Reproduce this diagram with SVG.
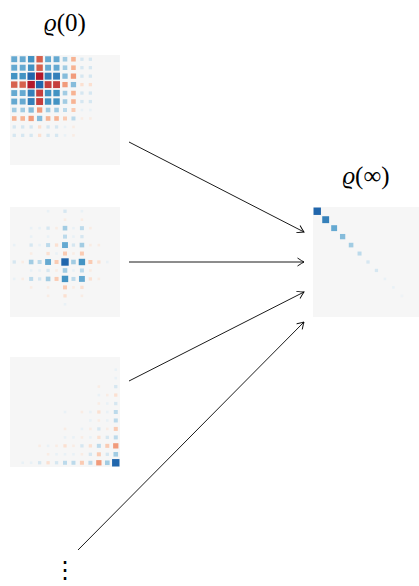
<svg xmlns="http://www.w3.org/2000/svg" width="419" height="586" viewBox="0 0 419 586">
  <style>
    .bg{fill:#f6f6f6}
    .lbl{font-family:"Liberation Serif","DejaVu Serif",serif;font-size:25px;fill:#000}
    .var{font-style:italic}
    .dots{font-family:"DejaVu Sans",sans-serif;font-size:24px;fill:#000}
    .arrow{fill:none;stroke:#000;stroke-width:0.9}
    .b0{fill:#e9f1f6}.b1{fill:#d6e7f1}.b2{fill:#bcdaeb}.b3{fill:#a2cce3}.b4{fill:#86bcdb}
    .b5{fill:#65a9d1}.b6{fill:#4393c3}.b7{fill:#3580ba}.b8{fill:#2166ac}
    .r0{fill:#f9ece4}.r1{fill:#fbe0d1}.r2{fill:#facbb3}.r3{fill:#f7b393}.r4{fill:#f19b7b}
    .r5{fill:#e27c62}.r6{fill:#d6604d}.r7{fill:#c53e3d}.r8{fill:#b2182b}
  </style>
  <defs>
    <!-- matrix-element squares in cell units (one cell = 1x1), centred in the cell -->
    <rect id="B0" class="b0" x="0.346" y="0.346" width="0.307" height="0.307"/>
    <rect id="B1" class="b1" x="0.305" y="0.305" width="0.39" height="0.39"/>
    <rect id="B2" class="b2" x="0.264" y="0.264" width="0.473" height="0.473"/>
    <rect id="B3" class="b3" x="0.228" y="0.228" width="0.544" height="0.544"/>
    <rect id="B4" class="b4" x="0.187" y="0.187" width="0.626" height="0.626"/>
    <rect id="B5" class="b5" x="0.151" y="0.151" width="0.697" height="0.697"/>
    <rect id="B6" class="b6" x="0.122" y="0.122" width="0.756" height="0.756"/>
    <rect id="B7" class="b7" x="0.092" y="0.092" width="0.815" height="0.815"/>
    <rect id="B8" class="b8" x="0.063" y="0.063" width="0.875" height="0.875"/>
    <rect id="R0" class="r0" x="0.346" y="0.346" width="0.307" height="0.307"/>
    <rect id="R1" class="r1" x="0.305" y="0.305" width="0.39" height="0.39"/>
    <rect id="R2" class="r2" x="0.264" y="0.264" width="0.473" height="0.473"/>
    <rect id="R3" class="r3" x="0.228" y="0.228" width="0.544" height="0.544"/>
    <rect id="R4" class="r4" x="0.187" y="0.187" width="0.626" height="0.626"/>
    <rect id="R5" class="r5" x="0.151" y="0.151" width="0.697" height="0.697"/>
    <rect id="R6" class="r6" x="0.122" y="0.122" width="0.756" height="0.756"/>
    <rect id="R7" class="r7" x="0.092" y="0.092" width="0.815" height="0.815"/>
    <rect id="R8" class="r8" x="0.063" y="0.063" width="0.875" height="0.875"/>
    <marker id="tip" viewBox="-8 -5 10 10" markerWidth="10" markerHeight="10" refX="0" refY="0" orient="auto" markerUnits="userSpaceOnUse">
      <path d="M-6.5,-4 Q-2,-1 0,0 Q-2,1 -6.5,4" fill="none" stroke="#000" stroke-width="0.9"/>
    </marker>
  </defs>

  <!-- labels -->
  <g id="label-rho0">
    <text class="lbl" x="65" y="31" text-anchor="middle"><tspan class="var">ϱ</tspan>(0)</text>
  </g>
  <g id="label-rhoinf">
    <text class="lbl" x="366" y="184" text-anchor="middle"><tspan class="var">ϱ</tspan>(∞)</text>
  </g>

  <!-- initial state: outer product of a real vector -->
  <g id="state-a" transform="translate(10,55) scale(8.4615)">
    <rect class="bg" x="0" y="0" width="13" height="13"/>
    <use href="#B5" x="0" y="0"/><use href="#B5" x="1" y="0"/><use href="#B6" x="2" y="0"/><use href="#R6" x="3" y="0"/><use href="#B5" x="4" y="0"/><use href="#B5" x="5" y="0"/><use href="#B3" x="6" y="0"/><use href="#R3" x="7" y="0"/><use href="#B1" x="8" y="0"/><use href="#B1" x="9" y="0"/>
    <use href="#B5" x="0" y="1"/><use href="#B5" x="1" y="1"/><use href="#B6" x="2" y="1"/><use href="#R6" x="3" y="1"/><use href="#B5" x="4" y="1"/><use href="#B5" x="5" y="1"/><use href="#B3" x="6" y="1"/><use href="#R3" x="7" y="1"/><use href="#B1" x="8" y="1"/><use href="#B1" x="9" y="1"/>
    <use href="#B6" x="0" y="2"/><use href="#B6" x="1" y="2"/><use href="#B8" x="2" y="2"/><use href="#R8" x="3" y="2"/><use href="#B7" x="4" y="2"/><use href="#B7" x="5" y="2"/><use href="#B4" x="6" y="2"/><use href="#R4" x="7" y="2"/><use href="#B1" x="8" y="2"/><use href="#B1" x="9" y="2"/>
    <use href="#R6" x="0" y="3"/><use href="#R6" x="1" y="3"/><use href="#R8" x="2" y="3"/><use href="#B8" x="3" y="3"/><use href="#R7" x="4" y="3"/><use href="#R7" x="5" y="3"/><use href="#R4" x="6" y="3"/><use href="#B4" x="7" y="3"/><use href="#R1" x="8" y="3"/><use href="#R1" x="9" y="3"/>
    <use href="#B5" x="0" y="4"/><use href="#B5" x="1" y="4"/><use href="#B7" x="2" y="4"/><use href="#R7" x="3" y="4"/><use href="#B6" x="4" y="4"/><use href="#B6" x="5" y="4"/><use href="#B3" x="6" y="4"/><use href="#R3" x="7" y="4"/><use href="#B1" x="8" y="4"/><use href="#B1" x="9" y="4"/>
    <use href="#B5" x="0" y="5"/><use href="#B5" x="1" y="5"/><use href="#B7" x="2" y="5"/><use href="#R7" x="3" y="5"/><use href="#B6" x="4" y="5"/><use href="#B6" x="5" y="5"/><use href="#B3" x="6" y="5"/><use href="#R3" x="7" y="5"/><use href="#B1" x="8" y="5"/><use href="#B1" x="9" y="5"/>
    <use href="#B3" x="0" y="6"/><use href="#B3" x="1" y="6"/><use href="#B4" x="2" y="6"/><use href="#R4" x="3" y="6"/><use href="#B3" x="4" y="6"/><use href="#B3" x="5" y="6"/><use href="#B2" x="6" y="6"/><use href="#R2" x="7" y="6"/><use href="#B0" x="8" y="6"/><use href="#B0" x="9" y="6"/>
    <use href="#R3" x="0" y="7"/><use href="#R3" x="1" y="7"/><use href="#R4" x="2" y="7"/><use href="#B4" x="3" y="7"/><use href="#R3" x="4" y="7"/><use href="#R3" x="5" y="7"/><use href="#R2" x="6" y="7"/><use href="#B2" x="7" y="7"/><use href="#R0" x="8" y="7"/><use href="#R0" x="9" y="7"/>
    <use href="#B1" x="0" y="8"/><use href="#B1" x="1" y="8"/><use href="#B1" x="2" y="8"/><use href="#R1" x="3" y="8"/><use href="#B1" x="4" y="8"/><use href="#B1" x="5" y="8"/><use href="#B0" x="6" y="8"/><use href="#R0" x="7" y="8"/>
    <use href="#B1" x="0" y="9"/><use href="#B1" x="1" y="9"/><use href="#B1" x="2" y="9"/><use href="#R1" x="3" y="9"/><use href="#B1" x="4" y="9"/><use href="#B1" x="5" y="9"/><use href="#B0" x="6" y="9"/><use href="#R0" x="7" y="9"/>
  </g>

  <!-- initial state centred on the middle level -->
  <g id="state-b" transform="translate(10,207) scale(8.4615)">
    <rect class="bg" x="0" y="0" width="13" height="13"/>
    <use href="#B0" x="4" y="0"/><use href="#B1" x="6" y="0"/><use href="#B0" x="8" y="0"/>
    <use href="#R0" x="6" y="1"/><use href="#R0" x="8" y="1"/>
    <use href="#B0" x="2" y="2"/><use href="#B0" x="3" y="2"/><use href="#B1" x="4" y="2"/><use href="#R0" x="5" y="2"/><use href="#B3" x="6" y="2"/><use href="#B0" x="7" y="2"/><use href="#B2" x="8" y="2"/><use href="#R0" x="9" y="2"/>
    <use href="#B0" x="2" y="3"/><use href="#B0" x="4" y="3"/><use href="#B2" x="6" y="3"/><use href="#B0" x="7" y="3"/><use href="#B1" x="8" y="3"/>
    <use href="#B0" x="0" y="4"/><use href="#B1" x="2" y="4"/><use href="#B0" x="3" y="4"/><use href="#B2" x="4" y="4"/><use href="#R1" x="5" y="4"/><use href="#B5" x="6" y="4"/><use href="#B1" x="7" y="4"/><use href="#B3" x="8" y="4"/><use href="#R0" x="9" y="4"/><use href="#R0" x="10" y="4"/>
    <use href="#R0" x="2" y="5"/><use href="#R1" x="4" y="5"/><use href="#B0" x="5" y="5"/><use href="#R2" x="6" y="5"/><use href="#R0" x="7" y="5"/><use href="#R2" x="8" y="5"/>
    <use href="#B1" x="0" y="6"/><use href="#R0" x="1" y="6"/><use href="#B3" x="2" y="6"/><use href="#B2" x="3" y="6"/><use href="#B5" x="4" y="6"/><use href="#R2" x="5" y="6"/><use href="#B8" x="6" y="6"/><use href="#B3" x="7" y="6"/><use href="#B6" x="8" y="6"/><use href="#R2" x="9" y="6"/><use href="#R1" x="10" y="6"/><use href="#B0" x="11" y="6"/>
    <use href="#B0" x="2" y="7"/><use href="#B0" x="3" y="7"/><use href="#B1" x="4" y="7"/><use href="#R0" x="5" y="7"/><use href="#B3" x="6" y="7"/><use href="#B0" x="7" y="7"/><use href="#B2" x="8" y="7"/><use href="#R0" x="9" y="7"/>
    <use href="#B0" x="0" y="8"/><use href="#R0" x="1" y="8"/><use href="#B2" x="2" y="8"/><use href="#B1" x="3" y="8"/><use href="#B3" x="4" y="8"/><use href="#R2" x="5" y="8"/><use href="#B6" x="6" y="8"/><use href="#B2" x="7" y="8"/><use href="#B5" x="8" y="8"/><use href="#R1" x="9" y="8"/><use href="#R0" x="10" y="8"/>
    <use href="#R0" x="2" y="9"/><use href="#R0" x="4" y="9"/><use href="#R2" x="6" y="9"/><use href="#R0" x="7" y="9"/><use href="#R1" x="8" y="9"/>
    <use href="#R0" x="4" y="10"/><use href="#R1" x="6" y="10"/><use href="#R0" x="8" y="10"/>
    <use href="#B0" x="6" y="11"/>
  </g>

  <!-- initial state concentrated on the last level -->
  <g id="state-c" transform="translate(10,357) scale(8.4615)">
    <rect class="bg" x="0" y="0" width="13" height="13"/>
    <use href="#B0" x="12" y="1"/>
    <use href="#B0" x="12" y="2"/>
    <use href="#R0" x="10" y="3"/><use href="#B1" x="12" y="3"/>
    <use href="#B0" x="10" y="4"/><use href="#R0" x="11" y="4"/><use href="#R1" x="12" y="4"/>
    <use href="#R0" x="10" y="5"/><use href="#B0" x="11" y="5"/><use href="#B1" x="12" y="5"/>
    <use href="#B0" x="6" y="6"/><use href="#R0" x="8" y="6"/><use href="#B0" x="9" y="6"/><use href="#R1" x="10" y="6"/><use href="#B0" x="11" y="6"/><use href="#B2" x="12" y="6"/>
    <use href="#B0" x="9" y="7"/><use href="#R0" x="10" y="7"/><use href="#B0" x="11" y="7"/><use href="#B2" x="12" y="7"/>
    <use href="#R0" x="6" y="8"/><use href="#B0" x="8" y="8"/><use href="#R0" x="9" y="8"/><use href="#B1" x="10" y="8"/><use href="#R0" x="11" y="8"/><use href="#R2" x="12" y="8"/>
    <use href="#B0" x="6" y="9"/><use href="#B0" x="7" y="9"/><use href="#R0" x="8" y="9"/><use href="#B0" x="9" y="9"/><use href="#R1" x="10" y="9"/><use href="#B1" x="11" y="9"/><use href="#B2" x="12" y="9"/>
    <use href="#R0" x="3" y="10"/><use href="#B0" x="4" y="10"/><use href="#R0" x="5" y="10"/><use href="#R1" x="6" y="10"/><use href="#R0" x="7" y="10"/><use href="#B1" x="8" y="10"/><use href="#R1" x="9" y="10"/><use href="#B2" x="10" y="10"/><use href="#R2" x="11" y="10"/><use href="#R4" x="12" y="10"/>
    <use href="#R0" x="4" y="11"/><use href="#B0" x="5" y="11"/><use href="#B0" x="6" y="11"/><use href="#B0" x="7" y="11"/><use href="#R0" x="8" y="11"/><use href="#B1" x="9" y="11"/><use href="#R2" x="10" y="11"/><use href="#B1" x="11" y="11"/><use href="#B3" x="12" y="11"/>
    <use href="#B0" x="1" y="12"/><use href="#B0" x="2" y="12"/><use href="#B1" x="3" y="12"/><use href="#R1" x="4" y="12"/><use href="#B1" x="5" y="12"/><use href="#B2" x="6" y="12"/><use href="#B2" x="7" y="12"/><use href="#R2" x="8" y="12"/><use href="#B2" x="9" y="12"/><use href="#R4" x="10" y="12"/><use href="#B3" x="11" y="12"/><use href="#B8" x="12" y="12"/>
  </g>

  <!-- stationary state: diagonal populations -->
  <g id="state-inf" transform="translate(313,207) scale(8.4615)">
    <rect class="bg" x="0" y="0" width="13" height="13"/>
    <use href="#B8" x="0" y="0"/><use href="#B7" x="1" y="1"/><use href="#B5" x="2" y="2"/><use href="#B4" x="3" y="3"/><use href="#B3" x="4" y="4"/><use href="#B2" x="5" y="5"/><use href="#B1" x="6" y="6"/><use href="#B1" x="7" y="7"/><use href="#B0" x="8" y="8"/><use href="#B0" x="9" y="9"/><use href="#B0" x="10" y="10" opacity="0.6"/>
  </g>

  <!-- more initial states -->
  <g id="more">
    <text class="dots" x="65" y="578" text-anchor="middle">⋮</text>
  </g>

  <!-- connectors -->
  <g id="connectors" class="arrow" marker-end="url(#tip)">
    <line x1="129" y1="142" x2="304" y2="232"/>
    <line x1="129" y1="262" x2="304" y2="262"/>
    <line x1="129" y1="381" x2="304" y2="292"/>
    <line x1="78" y1="550" x2="304" y2="322"/>
  </g>
</svg>
